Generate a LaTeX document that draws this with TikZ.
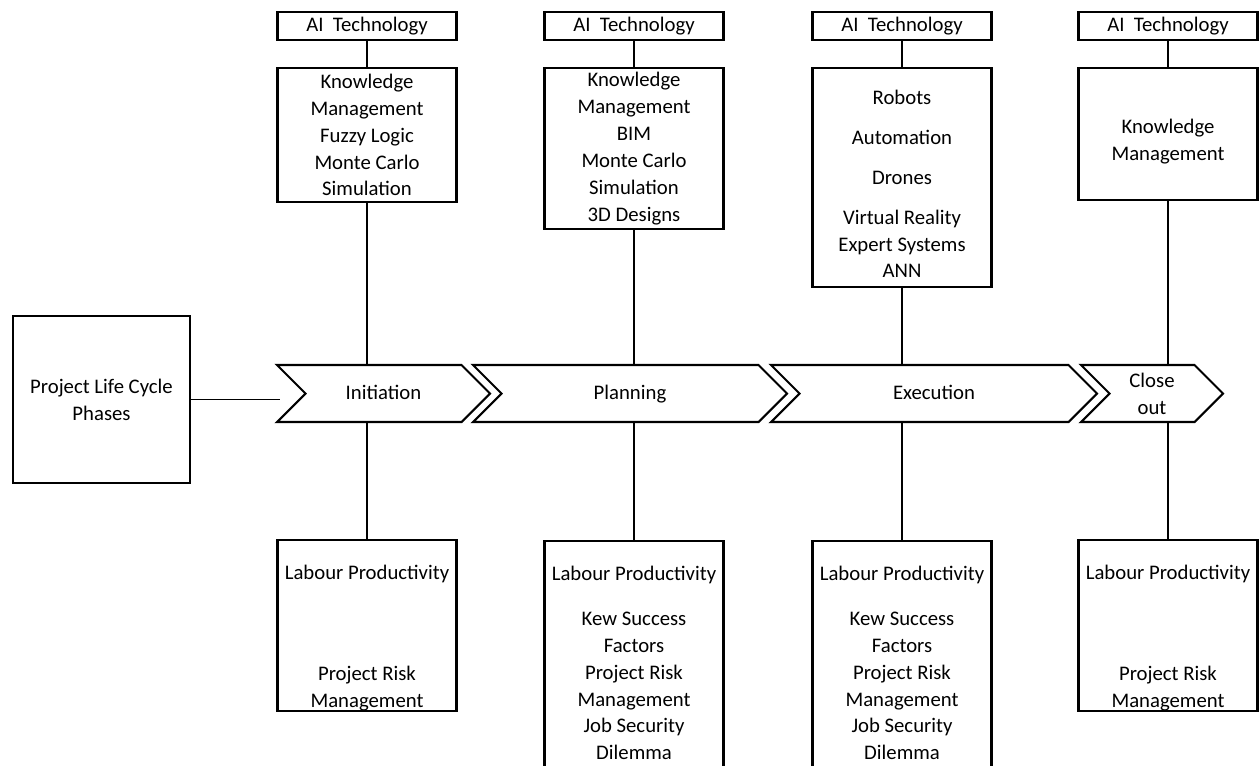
\documentclass[tikz,border=0pt]{standalone}
\usepackage{fontspec}
\setmainfont{Carlito}
\usetikzlibrary{shapes.symbols}
\newcommand{\pxu}{0.02cm}

\begin{document}
\begin{tikzpicture}[x=0.02cm, y=-0.02cm, font=\fontsize{11.8}{15.3}\selectfont,
		box/.style={draw, line width=1.2pt, minimum width=179*\pxu, align=center, inner sep=1pt},
		phase/.style={signal, signal to=east, signal from=west, signal pointer angle=90, draw, line width=1.2pt, minimum height=57*\pxu, align=center, inner sep=1pt, text height=0.64em, text depth=0pt},
		link/.style={line width=0.75pt}]
		\useasboundingbox (0,0) rectangle (1259,765);

		\node [box, minimum width=177*\pxu, minimum height=167*\pxu] (plc) at (101.5,399.5) {Project Life Cycle\\Phases};
		\coordinate (plcend) at (280,399.5);

		\node [phase, minimum width=213*\pxu] (init) at (383.5,393.5) {Initiation};
		\node [phase, minimum width=314*\pxu] (plan) at (630,393.5) {Planning};
		\node [phase, minimum width=326*\pxu] (exec) at (934,393.5) {Execution};
		\node [phase, minimum width=142*\pxu, text height=, text depth=] (close) at (1152,393.5) {Close\\out};

		\node [box, minimum height=28*\pxu] (ai1) at (367,26) {AI\ \ Technology};
		\node [box, minimum height=28*\pxu] (ai2) at (634,26) {AI\ \ Technology};
		\node [box, minimum height=28*\pxu] (ai3) at (902,26) {AI\ \ Technology};
		\node [box, minimum height=28*\pxu] (ai4) at (1168,26) {AI\ \ Technology};

		\node [box, minimum height=134*\pxu] (km1) at (367,135) {Knowledge\\Management\\Fuzzy Logic\\Monte Carlo\\Simulation};
		\node [box, minimum height=161*\pxu] (km2) at (634,148.5) {Knowledge\\Management\\BIM\\Monte Carlo\\Simulation\\3D Designs};
		\node [box, minimum height=219*\pxu] (km3) at (902,177.5) {Robots\\[0.26cm]Automation\\[0.26cm]Drones\\[0.26cm]Virtual Reality\\Expert Systems\\ANN\\[-0.8cm]};
		\node [box, minimum height=132*\pxu] (km4) at (1168,134) {Knowledge\\Management\\[-0.76cm]};

		\node [box, minimum height=171*\pxu] (lp1) at (367,625.5) {Labour Productivity\\[1.48cm]Project Risk\\Management\\[-0.98cm]};
		\node [box, minimum height=244*\pxu] (lp2) at (634,663) {Labour Productivity\\[0.36cm]Kew Success\\Factors\\Project Risk\\Management\\Job Security\\Dilemma};
		\node [box, minimum height=244*\pxu] (lp3) at (902,663) {Labour Productivity\\[0.36cm]Kew Success\\Factors\\Project Risk\\Management\\Job Security\\Dilemma};
		\node [box, minimum height=171*\pxu] (lp4) at (1168,625.5) {Labour Productivity\\[1.48cm]Project Risk\\Management\\[-0.98cm]};

		\path[link] (plc) edge (plcend);
		\path[link] (ai1) edge (km1);
		\path[link] (km1) edge (km1 |- init.north);
		\path[link] (init.south -| lp1.north) edge (lp1);
		\path[link] (ai2) edge (km2);
		\path[link] (km2) edge (km2 |- plan.north);
		\path[link] (plan.south -| lp2.north) edge (lp2);
		\path[link] (ai3) edge (km3);
		\path[link] (km3) edge (km3 |- exec.north);
		\path[link] (exec.south -| lp3.north) edge (lp3);
		\path[link] (ai4) edge (km4);
		\path[link] (km4) edge (km4 |- close.north);
		\path[link] (close.south -| lp4.north) edge (lp4);
	\end{tikzpicture}
\end{document}
